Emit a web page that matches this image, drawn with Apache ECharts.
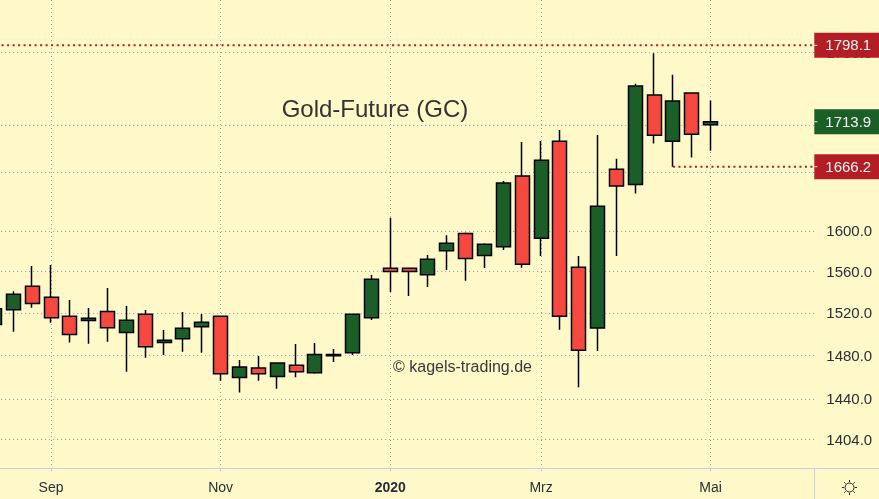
<!DOCTYPE html>
<html><head><meta charset="utf-8">
<style>html,body{margin:0;padding:0;background:#fff8c8;overflow:hidden;width:879px;height:499px}#c{position:absolute;left:-15px;top:0;width:894px;height:499px}</style>
<script src="https://cdn.jsdelivr.net/npm/echarts@6/dist/echarts.min.js"></script>
</head><body><div id="c"></div>
<script>
const weeks = ['2019-08-05','2019-08-12','2019-08-19','2019-08-26','2019-09-02','2019-09-09','2019-09-16','2019-09-23','2019-09-30','2019-10-07','2019-10-14','2019-10-21','2019-10-28','2019-11-04','2019-11-11','2019-11-18','2019-11-25','2019-12-02','2019-12-09','2019-12-16','2019-12-23','2019-12-30','2020-01-06','2020-01-13','2020-01-20','2020-01-27','2020-02-03','2020-02-10','2020-02-17','2020-02-24','2020-03-02','2020-03-09','2020-03-16','2020-03-23','2020-03-30','2020-04-06','2020-04-13','2020-04-20','2020-04-27','2020-05-04','2020-05-11','2020-05-18','2020-05-25','2020-06-01'];
const opens  = [1509,1523,1545.8,1535.1,1516.8,1512.8,1521.5,1501.4,1518.7,1492,1495.7,1507,1516.8,1459.6,1468.4,1460.5,1471,1464,1479.7,1482.5,1515.5,1563.3,1563.3,1557,1580.6,1597.8,1575.8,1584.6,1656.5,1592.9,1693,1564.2,1505.8,1663.5,1647.6,1742.9,1693.1,1745,1710.7];
const closes = [1524,1538,1529,1515.5,1499.5,1515,1506,1513,1488.2,1494.2,1505.6,1511.1,1463.2,1469.4,1463.2,1473,1465,1481,1481,1518.7,1552.5,1560,1560,1572.1,1588,1572.8,1587,1649.3,1567.2,1673,1516.8,1484.8,1625.4,1646,1752.7,1699.4,1736.3,1700.5,1713.9];
const lows   = [1502,1502.3,1525,1510.8,1492,1491,1492.9,1465,1477.9,1480.4,1483.5,1482.5,1456.6,1445.9,1456.8,1449.5,1459.9,1463,1474,1480.4,1513.3,1540.2,1536.3,1545,1561.6,1551,1563.6,1581.4,1563.9,1575.4,1504.2,1450.7,1484.1,1575.4,1638.4,1690.6,1666.2,1675.8,1683];
const highs  = [1532,1541,1565.5,1566.5,1532.5,1524.7,1544,1526.7,1522.8,1503.9,1520.9,1519,1517.5,1475.8,1479.4,1473.5,1490.7,1491.7,1486,1519.6,1556.7,1613.7,1563.5,1576.4,1596,1598.8,1588,1651.3,1692.3,1693.4,1705,1575.4,1699.7,1674.4,1755.2,1789.2,1765.1,1746,1737];
const monthWeeks  = ['2019-08-26','2019-10-28','2019-12-30','2020-02-24','2020-04-27'];
const monthLabels = ['Sep','Nov','2020','Mrz','Mai'];
const monthGridLines = [3.5,12.5,21.5,29.5,38.5];
const priceTicks = [1404,1440,1480,1520,1560,1600,1660,1710,1790];
const resistance = 1798.1, lastPrice = 1713.9, support = 1666.2;
const resistanceSpan = [0,44], lastSpan = [43.9,44], supportSpan = [36.5,44];

const ink='#2a2e39', grid='#9a9ca6', axisC='#c9cfe6', font='"Liberation Sans"', shift=15;
const isMonth=(i,v)=>monthWeeks.includes(v);
function tag(color){return {show:true,position:'right',distance:0,align:'left',verticalAlign:'middle',
  backgroundColor:color,padding:[5,8,5,0],
  formatter:p=>'{d|}{v|'+Number(p.value[1]).toFixed(1)+'}',
  rich:{d:{width:3,height:1,backgroundColor:'#f4f4f4'},
        v:{color:'#f4f4f4',fontFamily:font,fontSize:15,lineHeight:15,height:15,width:46,padding:[2,0,0,8]}}};}
function level(span,val,color,line){return {type:'line',xAxisIndex:1,yAxisIndex:0,symbol:'none',silent:true,z:6,clip:false,
  data:span.map(x=>[x,val]),lineStyle:line?{color,width:2,type:[2,3.5]}:{width:0,opacity:0},endLabel:tag(color)};}
const chart=echarts.init(document.getElementById('c'),null,{renderer:'canvas'});
chart.setOption({animation:false,backgroundColor:'#fff8c8',
 title:{text:'Gold-Future (GC)',left:370+shift,top:93,textAlign:'center',textStyle:{fontFamily:font,fontSize:24,fontWeight:'normal',color:'#333'}},
 grid:{left:0.1,top:0,width:829.2,height:468.3,containLabel:false},
 xAxis:[{type:'category',data:weeks,boundaryGap:true,
   axisLine:{lineStyle:{color:axisC}},
   axisTick:{show:true,length:3,alignWithLabel:true,interval:isMonth,lineStyle:{color:axisC}},
   axisLabel:{interval:isMonth,hideOverlap:false,margin:13,fontFamily:font,fontSize:14,color:ink,
     formatter:v=>{const l=monthLabels[monthWeeks.indexOf(v)];return l==='2020'?'{b|2020}':l;},
     rich:{b:{fontFamily:font,fontSize:14,fontWeight:'bold',color:ink}}},
   splitLine:{show:false}},
  {type:'value',min:0,max:44,position:'bottom',
   axisLine:{show:false},axisLabel:{show:false},
   axisTick:{show:false,customValues:monthGridLines},
   splitLine:{show:true,lineStyle:{color:grid,width:1,type:[1,3]}}}],
 yAxis:{type:'log',position:'right',min:1378.8,max:1850,logBase:10,
   axisLine:{show:true,lineStyle:{color:axisC}},
   axisTick:{show:true,length:4,customValues:priceTicks,lineStyle:{color:axisC}},
   axisLabel:{customValues:priceTicks,margin:12,fontFamily:font,fontSize:15,color:ink,
     formatter:v=>'{v|'+Number(v).toFixed(1)+'}',
     rich:{v:{fontFamily:font,fontSize:15,color:ink,padding:[2,0,0,0]}}},
   splitLine:{show:true,lineStyle:{color:grid,width:1,type:[1,3]}},minorTick:{show:false}},
 series:[
  {type:'candlestick',barWidth:14.5,data:weeks.slice(0,opens.length).map((w,i)=>[opens[i],closes[i],lows[i],highs[i]]),
   itemStyle:{color:'#1b5e27',color0:'#f5493f',borderColor:'#000',borderColor0:'#000',borderWidth:1.5},z:3},
  level(resistanceSpan,resistance,'#b21e23',true),
  level(lastSpan,lastPrice,'#1b5e27',false),
  level(supportSpan,support,'#b21e23',true)
 ],
 graphic:[
  {type:'text',left:393+shift,top:360,style:{text:'© kagels-trading.de',fontFamily:font,fontSize:16,fill:'#3a3a3a'},z:10},
  {type:'line',shape:{x1:814.5+shift,y1:468,x2:814.5+shift,y2:499},style:{stroke:axisC}},
  {type:'line',shape:{x1:814+shift,y1:468.5,x2:879+shift,y2:468.5},style:{stroke:axisC}},
  {type:'circle',shape:{cx:849.5+shift,cy:487.5,r:4.5},style:{fill:'none',stroke:'#222',lineWidth:1}},
  ...[[849.5,480,849.5,482],[849.5,493,849.5,495],[842,487.5,844,487.5],[855,487.5,857,487.5],[844.2,482.2,845.6,483.6],[853.4,491.4,854.8,492.8],[844.2,492.8,845.6,491.4],[853.4,483.6,854.8,482.2]]
   .map(a=>({type:'line',shape:{x1:a[0]+shift,y1:a[1],x2:a[2]+shift,y2:a[3]},style:{stroke:'#222',lineWidth:1}}))
 ]});
</script></body></html>
